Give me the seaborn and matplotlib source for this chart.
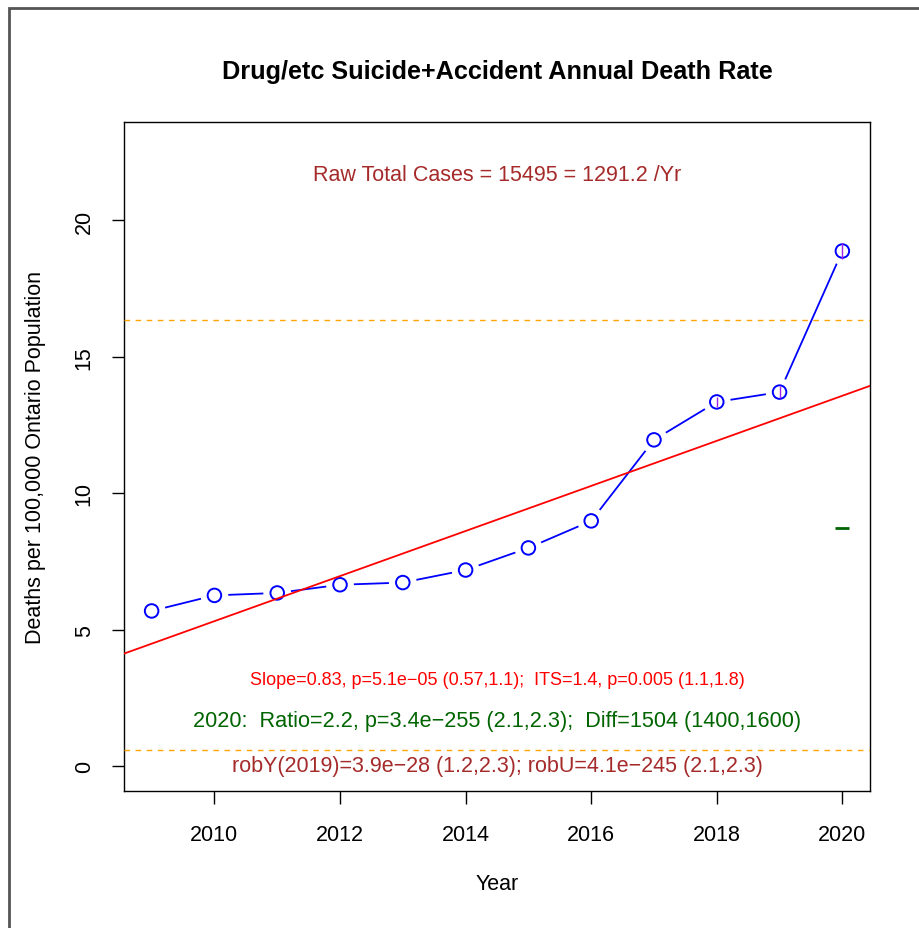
import matplotlib
matplotlib.use("Agg")
import matplotlib.pyplot as plt
import seaborn as sns
import pandas as pd
from matplotlib.patches import Rectangle

# Data
years = [2009, 2010, 2011, 2012, 2013, 2014, 2015, 2016, 2017, 2018, 2019, 2020]
rate = [5.69, 6.26, 6.35, 6.65, 6.73, 7.19, 8.0, 8.99, 11.96, 13.35, 13.71, 18.88]
ci_half = [0, 0, 0, 0, 0, 0, 0, 0, 0, 0.18, 0.22, 0.3]

trend_at_2009 = 4.49
trend_slope = 0.826
band_upper = 16.34
band_lower = 0.585
expected_2020 = 8.74

title = "Drug/etc Suicide+Accident Annual Death Rate"
raw_text = "Raw Total Cases = 15495 = 1291.2 /Yr"
slope_text = "Slope=0.83, p=5.1e\u221205 (0.57,1.1);  ITS=1.4, p=0.005 (1.1,1.8)"
ratio_text = "2020:  Ratio=2.2, p=3.4e\u2212255 (2.1,2.3);  Diff=1504 (1400,1600)"
rob_text = "robY(2019)=3.9e\u221228 (1.2,2.3); robU=4.1e\u2212245 (2.1,2.3)"

df = pd.DataFrame({"Year": years, "Rate": rate})

sns.set_style("white")
plt.rcParams["font.family"] = ["Liberation Sans", "DejaVu Sans"]
plt.rcParams["text.color"] = "black"
plt.rcParams["axes.labelcolor"] = "black"
plt.rcParams["xtick.color"] = "black"
plt.rcParams["ytick.color"] = "black"

fig = plt.figure(figsize=(9.2, 9.29), dpi=100)
ax = fig.add_axes([124 / 920, 1 - 792 / 929, 746 / 920, 669 / 929])

# outer frame (only left/top edges are visible)
fig.patches.append(Rectangle((8.5 / 920, -0.5), 2.0, 1.5 - 8.5 / 929,
                             transform=fig.transFigure, fill=False,
                             edgecolor="#555555", linewidth=2.0, zorder=0))

# blue connecting line, broken around points like R type="b"
sns.lineplot(data=df, x="Year", y="Rate", color="blue", linewidth=1.3, ax=ax, zorder=2)
sns.scatterplot(data=df, x="Year", y="Rate", s=400, color="white", edgecolor="none",
                linewidth=0, ax=ax, zorder=3)
sns.scatterplot(data=df, x="Year", y="Rate", s=95, facecolor="none", edgecolor="blue",
                linewidth=1.4, ax=ax, zorder=4)
ax.vlines(years, [r - c for r, c in zip(rate, ci_half)], [r + c for r, c in zip(rate, ci_half)],
          color="#A020F0", linewidth=1.0, zorder=5)

# trend line and reference lines
ax.axline((2009, trend_at_2009), slope=trend_slope, color="red", linewidth=1.3, zorder=6)
ax.axhline(band_upper, color="orange", linestyle=(0, (4, 4)), linewidth=1.0, zorder=6)
ax.axhline(band_lower, color="orange", linestyle=(0, (4, 4)), linewidth=1.0, zorder=6)
ax.plot([2020], [expected_2020], marker="_", markersize=10, markeredgewidth=2,
        color="darkgreen", linestyle="none", zorder=6)

# annotations
ax.text(2014.5, 21.7, raw_text, color="#A52A2A", fontsize=15.5, ha="center", va="center")
ax.text(2014.5, 3.18, slope_text, color="red", fontsize=13, ha="center", va="center")
ax.text(2014.5, 1.68, ratio_text, color="darkgreen", fontsize=15.6, ha="center", va="center")
ax.text(2014.5, 0.04, rob_text, color="#A52A2A", fontsize=15.5, ha="center", va="center")

ax.set_xlim(2008.56, 2020.44)
ax.set_ylim(-0.908, 23.608)
ax.set_xticks([2010, 2012, 2014, 2016, 2018, 2020])
ax.set_yticks([0, 5, 10, 15, 20])
ax.tick_params(axis="both", direction="out", length=9, width=1.0, labelsize=15.5,
               bottom=True, left=True, color="black", labelcolor="black")
ax.tick_params(axis="x", pad=15)
ax.tick_params(axis="y", pad=12)
for lab in ax.get_yticklabels():
    lab.set_rotation(90)
    lab.set_va("center")

for side in ax.spines.values():
    side.set_color("black")
    side.set_linewidth(1.0)

ax.set_xlabel("Year", fontsize=15.5, labelpad=20)
ax.set_ylabel("Deaths per 100,000 Ontario Population", fontsize=15.5, labelpad=20)
fig.text(497 / 920, 1 - 72 / 929, title, fontsize=18.2, fontweight="bold",
         ha="center", va="center")

fig.savefig("out.png", dpi=100)
